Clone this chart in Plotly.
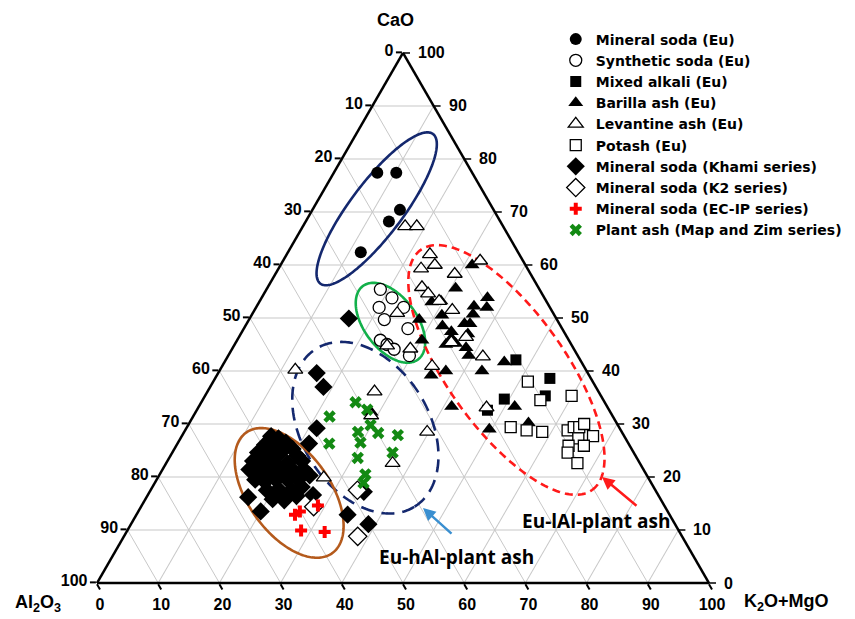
import numpy as np
import plotly.graph_objects as go

W, H = 855, 619

# ---------------------------------------------------------------
# Composition data: CaO, Al2O3 and K2O+MgO (% of the three-oxide sum)
# ---------------------------------------------------------------
ms_eu_cao = [77.4, 77.4, 70.4, 68.2, 62.4]
ms_eu_al2o3 = [15.5, 12.4, 15.3, 18.2, 25.7]
ms_eu_kmg = [7.1, 10.2, 14.3, 13.6, 11.9]

syn_cao = [55.4, 53.8, 52.0, 52.0, 49.7, 48.0, 45.8, 45.0, 44.1, 42.9]
syn_al2o3 = [26.0, 24.9, 27.9, 23.9, 28.2, 25.2, 30.8, 30.1, 29.4, 27.5]
syn_kmg = [18.6, 21.3, 20.1, 24.1, 22.1, 26.8, 23.4, 24.9, 26.5, 29.6]

mix_cao = [42.1, 38.6, 35.3, 34.7, 32.6]
mix_al2o3 = [10.5, 6.7, 9.1, 16.1, 19.9]
mix_kmg = [47.4, 54.7, 55.6, 49.2, 47.5]

bar_cao = [60.0, 55.6, 53.8, 52.0, 52.2, 53.0, 53.2, 50.5, 50.7, 49.7,
           48.5, 47.4, 48.9, 48.9, 47.0, 46.2, 45.0, 45.2, 44.4, 42.9,
           45.8, 41.7, 40.0, 40.0, 39.2, 33.3, 33.3, 29.0, 30.2, 32.2]
bar_al2o3 = [8.7, 13.6, 9.3, 10.3, 12.3, 18.8, 17.2, 18.4, 13.2, 22.5,
             19.3, 18.4, 15.5, 14.6, 15.9, 19.0, 20.5, 18.8, 17.5, 17.8,
             24.0, 12.6, 17.1, 23.0, 25.8, 25.4, 15.1, 21.4, 14.4, 39.1]
bar_kmg = [31.3, 30.8, 36.9, 37.7, 35.5, 28.2, 29.6, 31.1, 36.1, 27.8,
           32.2, 34.2, 35.6, 36.5, 37.1, 34.8, 34.5, 36.0, 38.1, 39.3,
           30.2, 45.7, 42.9, 37.0, 35.0, 41.3, 51.6, 49.6, 55.4, 28.7]

lev_cao = [67.3, 67.3, 62.0, 60.0, 59.3, 60.8, 58.3, 55.8, 54.6, 53.2,
           51.5, 45.4, 46.4, 42.7, 50.9, 44.8, 44.2, 40.9, 40.2, 36.1,
           31.6, 28.5, 22.6, 19.9, 33.1]
lev_al2o3 = [16.0, 14.1, 14.6, 14.8, 17.4, 7.0, 12.4, 19.0, 18.6, 17.5,
             16.2, 19.4, 16.5, 15.6, 25.5, 30.2, 26.7, 24.8, 47.5, 36.6,
             39.4, 31.8, 40.4, 53.0, 19.8]
lev_kmg = [16.7, 18.6, 23.4, 25.2, 23.3, 32.2, 29.3, 25.2, 26.8, 29.3,
           32.3, 35.2, 37.1, 41.7, 23.6, 25.0, 29.1, 34.3, 12.3, 27.3,
           29.0, 39.7, 37.0, 27.1, 47.1]

pot_cao = [38.0, 34.5, 35.3, 29.4, 28.8, 28.5, 28.8, 29.4, 29.4, 30.0,
           27.7, 27.3, 25.9, 25.9, 24.6, 22.6]
pot_al2o3 = [10.6, 10.3, 4.8, 17.7, 15.4, 13.0, 8.7, 7.4, 6.5, 5.4,
             5.1, 7.7, 10.0, 7.5, 10.8, 10.2]
pot_kmg = [51.4, 55.2, 59.9, 52.9, 55.8, 58.5, 62.5, 63.2, 64.1, 64.6,
           67.2, 65.0, 64.1, 66.6, 64.6, 67.2]

khami_cao = [49.9, 39.6, 37.0, 29.2, 26.3, 17.2, 12.9, 11.1, 16.2, 13.5, 16.6,
             27.7, 27.3, 26.5, 26.1, 25.7, 25.3, 24.6, 24.4, 24.6, 24.0,
             23.0, 23.0, 22.6, 22.8, 22.6, 21.4, 21.1, 21.1, 21.1, 21.4,
             21.4, 20.3, 19.5, 19.1, 19.5, 19.5, 19.5, 17.5, 17.7, 17.5,
             18.1, 15.8, 15.6, 16.4]
khami_al2o3 = [33.9, 44.3, 44.5, 49.5, 52.2, 47.8, 52.6, 50.1, 67.2, 66.5, 56.4,
               57.7, 56.7, 55.9, 59.5, 58.1, 55.4, 61.4, 59.7, 57.7, 55.3,
               55.0, 63.0, 61.6, 59.7, 57.6, 64.4, 63.0, 61.4, 59.4, 57.4,
               55.5, 55.1, 64.4, 63.0, 61.0, 59.1, 57.4, 63.5, 61.5, 59.5,
               57.5, 63.4, 61.6, 59.2]
khami_kmg = [16.2, 16.1, 18.5, 21.3, 21.5, 35.0, 34.5, 38.8, 16.6, 20.0, 27.0,
             14.6, 16.0, 17.6, 14.4, 16.2, 19.3, 14.0, 15.9, 17.7, 20.7,
             22.0, 14.0, 15.8, 17.5, 19.8, 14.2, 15.9, 17.5, 19.5, 21.2,
             23.1, 24.6, 16.1, 17.9, 19.5, 21.4, 23.1, 19.0, 20.8, 23.0,
             24.4, 20.8, 22.8, 24.4]

k2_cao = [14.4, 17.5, 8.8]
k2_al2o3 = [57.4, 48.7, 53.0]
k2_kmg = [28.2, 33.8, 38.2]

ecip_cao = [12.9, 13.5, 14.6, 9.9, 9.6]
ecip_al2o3 = [61.2, 60.1, 56.6, 61.7, 58.0]
ecip_kmg = [25.9, 26.4, 28.8, 28.4, 32.4]

plant_cao = [34.1, 32.7, 31.4, 29.8, 28.5, 28.3, 27.9, 26.5, 26.3, 24.6,
             23.6, 20.5, 18.9]
plant_al2o3 = [40.7, 39.5, 46.3, 40.4, 43.1, 39.9, 36.9, 43.7, 48.9, 39.4,
               45.6, 45.9, 47.0]
plant_kmg = [25.2, 27.8, 22.3, 29.8, 28.4, 31.8, 35.2, 29.8, 24.8, 36.0,
             30.8, 33.6, 34.1]

# Edge scale: every edge reads 0..100 for the component it measures
tick_values = [0, 10, 20, 30, 40, 50, 60, 70, 80, 90, 100]
edge_tick_labels = ["100", "90", "80", "70", "60", "50", "40", "30", "20", "10", "0"]
cao_edge_labels = ["0", "10", "20", "30", "40", "50", "60", "70", "80", "90", "100"]

BOLD = "Liberation Sans, Arial, sans-serif"
TICK_FONT = dict(family=BOLD, size=16, color="black", weight="bold")

# Triangle placement on the page (pixels): base from LEFT to RIGHT at BOTTOM
LEFT, RIGHT, BOTTOM = 97, 709, 583
TOP = BOTTOM - (RIGHT - LEFT) * np.sqrt(3) / 2

series = [
    ("Mineral soda (Eu)", ms_eu_cao, ms_eu_al2o3, ms_eu_kmg,
     dict(symbol="circle", size=12, color="black")),
    ("Synthetic soda (Eu)", syn_cao, syn_al2o3, syn_kmg,
     dict(symbol="circle", size=12, color="white", line=dict(color="black", width=1.3))),
    ("Mixed alkali (Eu)", mix_cao, mix_al2o3, mix_kmg,
     dict(symbol="square", size=11, color="black")),
    ("Barilla ash (Eu)", bar_cao, bar_al2o3, bar_kmg,
     dict(symbol="triangle-up", size=13, color="black")),
    ("Levantine ash (Eu)", lev_cao, lev_al2o3, lev_kmg,
     dict(symbol="triangle-up", size=13, color="white", line=dict(color="black", width=1.3))),
    ("Potash (Eu)", pot_cao, pot_al2o3, pot_kmg,
     dict(symbol="square", size=11, color="white", line=dict(color="black", width=1.3))),
    ("Mineral soda (Khami series)", khami_cao, khami_al2o3, khami_kmg,
     dict(symbol="diamond", size=14, color="black")),
    ("Mineral soda (K2 series)", k2_cao, k2_al2o3, k2_kmg,
     dict(symbol="diamond", size=14, color="white", line=dict(color="black", width=1.3))),
    ("Mineral soda (EC-IP series)", ecip_cao, ecip_al2o3, ecip_kmg,
     dict(symbol="cross", size=10, color="#ff0000", line=dict(width=0))),
    ("Plant ash (Map and Zim series)", plant_cao, plant_al2o3, plant_kmg,
     dict(symbol="x", size=11, color="#138a13", line=dict(width=0))),
]

SQ3 = np.sqrt(3) / 2


def ellipse_abc(center, semi_major, semi_minor, angle_deg, n=240):
    """Ellipse drawn in the equilateral frame (side = 1), returned as ternary %."""
    ca, cb, cc = center
    s = ca + cb + cc
    ca, cc = ca / s, cc / s
    x0, y0 = 0.5 * ca + cc, SQ3 * ca
    t = np.linspace(0, 2 * np.pi, n)
    th = np.radians(angle_deg)
    x = x0 + semi_major * np.cos(t) * np.cos(th) - semi_minor * np.sin(t) * np.sin(th)
    y = y0 + semi_major * np.cos(t) * np.sin(th) + semi_minor * np.sin(t) * np.cos(th)
    a = y / SQ3
    c = x - a / 2
    b = 1 - a - c
    return a * 100, b * 100, c * 100


# Group outlines: centre (CaO, Al2O3, K2O+MgO), semi-axes, tilt, style
groups = [
    ((70.6, 19.0, 10.4), 0.153, 0.043, 53, "#14286e", "solid"),
    ((49.1, 27.5, 23.4), 0.075, 0.043, -53, "#12b04a", "solid"),
    ((40.2, 13.0, 46.8), 0.241, 0.096, -54.5, "#ff1a1a", "8px,5px"),
    ((29.3, 41.5, 29.2), 0.152, 0.104, -58, "#14286e", "13px,8px"),
    ((17.0, 60.1, 22.9), 0.121, 0.067, -54.5, "#b45a1c", "solid"),
]

fig = go.Figure()

for centre, sa, sb, ang, col, dash in groups:
    ea, eb, ec = ellipse_abc(centre, sa, sb, ang)
    fig.add_trace(go.Scatterternary(
        a=ea, b=eb, c=ec, mode="lines", showlegend=False, hoverinfo="skip",
        line=dict(color=col, width=2.6, dash=dash),
    ))

for name, a, b, c, marker in series:
    fig.add_trace(go.Scatterternary(
        a=a, b=b, c=c, mode="markers", name=name, marker=marker, cliponaxis=False,
    ))


def axis(show_labels=True):
    return dict(
        title=dict(text=""),
        tickmode="array", tickvals=tick_values, ticktext=edge_tick_labels,
        showticklabels=show_labels,
        ticks="outside" if show_labels else "", ticklen=6, tickwidth=1.5,
        tickcolor="black",
        tickfont=TICK_FONT,
        linecolor="black", linewidth=2.5,
        showgrid=True, gridcolor="#c8c8c8", gridwidth=1,
        min=0,
    )


fig.update_layout(
    width=W, height=H,
    margin=dict(l=0, r=0, t=0, b=0),
    paper_bgcolor="white",
    ternary=dict(
        sum=100,
        bgcolor="white",
        domain=dict(x=[LEFT / W, RIGHT / W], y=[1 - BOTTOM / H, 1 - TOP / H]),
        aaxis=axis(),
        baxis=axis(),
        caxis=axis(show_labels=False),
    ),
    legend=dict(
        x=0.650, y=0.962, xanchor="left", yanchor="top",
        font=dict(family="DejaVu Sans, sans-serif", size=14, color="black", weight="bold"),
        bgcolor="rgba(0,0,0,0)", tracegroupgap=0, itemsizing="trace",
    ),
    showlegend=True,
)

# CaO scale: short level ticks and labels just right of the right edge
for v, lab in zip(tick_values, cao_edge_labels):
    ex = RIGHT - (RIGHT - LEFT) / 2 * v / 100
    ey = BOTTOM - (BOTTOM - TOP) * v / 100
    fig.add_shape(type="line", xref="paper", yref="paper",
                  x0=ex / W, x1=(ex + 7) / W, y0=1 - ey / H, y1=1 - ey / H,
                  line=dict(color="black", width=1.5))
    fig.add_annotation(x=(ex + 13) / W, y=1 - ey / H, xref="paper", yref="paper",
                       text=lab, showarrow=False, xanchor="left", yanchor="middle",
                       font=TICK_FONT)

# Corner titles of the three components
title_font = dict(family=BOLD, size=18, color="black", weight="bold")
for txt, px, py in [("CaO", 395, 20),
                    ("Al<sub>2</sub>O<sub>3</sub>", 38, 603),
                    ("K<sub>2</sub>O+MgO", 786, 602)]:
    fig.add_annotation(x=px / W, y=1 - py / H, xref="paper", yref="paper", text=txt,
                       showarrow=False, xanchor="center", yanchor="middle", font=title_font)

# Callout labels with arrows pointing to the two plant-ash groups
label_font = dict(family="Open Sans, sans-serif", size=19, color="black", weight="bold")
fig.add_annotation(x=602 / W, y=1 - 477 / H, xref="paper", yref="paper", text="",
                   showarrow=True, arrowhead=2, arrowsize=1, arrowwidth=2.5,
                   arrowcolor="#ff1a1a", ax=36, ay=30)
fig.add_annotation(x=596 / W, y=1 - 521 / H, xref="paper", yref="paper",
                   text="Eu-lAl-plant ash", showarrow=False, font=label_font,
                   xanchor="center", yanchor="middle")
fig.add_annotation(x=423 / W, y=1 - 508 / H, xref="paper", yref="paper", text="",
                   showarrow=True, arrowhead=2, arrowsize=1, arrowwidth=2.5,
                   arrowcolor="#3a8fd0", ax=30, ay=27)
fig.add_annotation(x=457 / W, y=1 - 557 / H, xref="paper", yref="paper",
                   text="Eu-hAl-plant ash", showarrow=False, font=label_font,
                   xanchor="center", yanchor="middle")

fig.write_html("out.html")
